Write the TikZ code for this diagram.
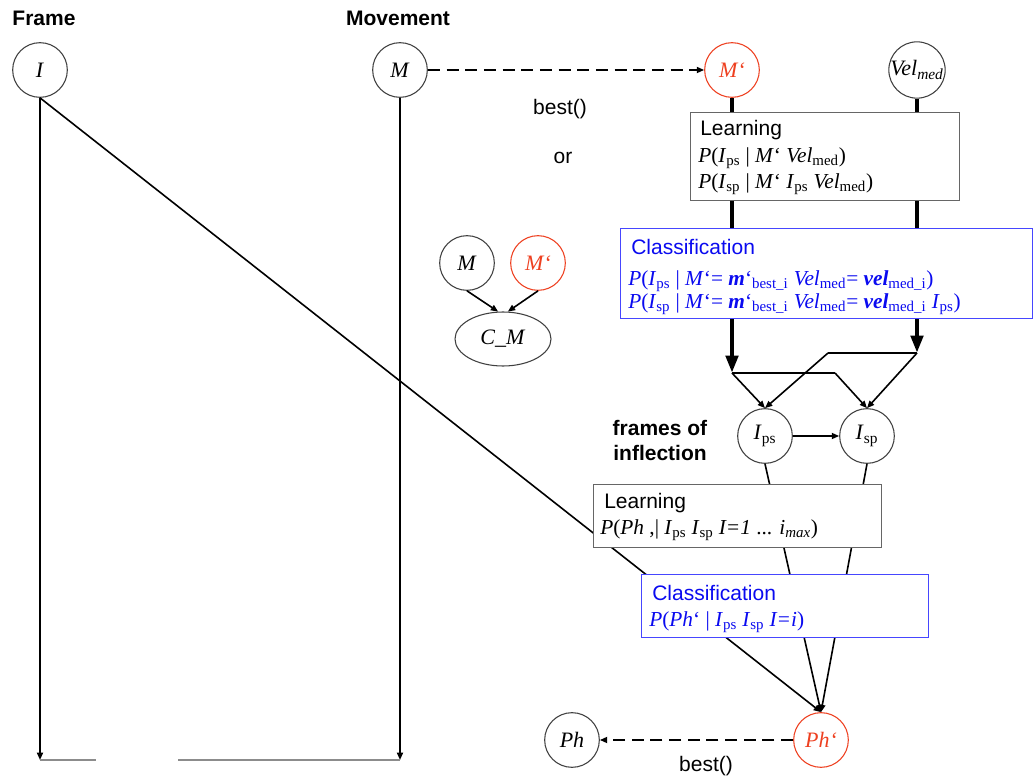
\documentclass[tikz,border=0pt]{standalone}
\usepackage{fontspec}
\setmainfont{Liberation Serif}
\setsansfont{Liberation Sans}
\usetikzlibrary{arrows.meta,shapes.geometric}

\definecolor{hot}{RGB}{238,64,32}
\definecolor{clsblue}{RGB}{10,10,240}
\definecolor{clsframe}{RGB}{70,70,255}

\newcommand\lo[1]{\textsubscript{#1}}

\begin{document}
\begin{tikzpicture}[x=0.75pt,y=-0.75pt,
  lbl/.style={font=\fontsize{15.75}{18.75}\selectfont\sffamily, inner sep=0pt},
  head/.style={font=\fontsize{15.75}{18.75}\selectfont\sffamily\bfseries, inner sep=0pt},
  var/.style={circle, draw=black!75, line width=0.8pt, minimum size=41pt, inner sep=0pt,
    fill=white, font=\fontsize{16.5}{18}\selectfont},
  hotvar/.style={var, draw=hot, text=hot},
  learnbox/.style={draw=black!60, line width=1.1pt, fill=white, inner sep=0pt, anchor=north west},
  clsbox/.style={draw=clsframe, line width=0.9pt, fill=white, inner sep=0pt, anchor=north west},
  formula/.style={font=\fontsize{16}{18}\selectfont, inner sep=0pt, anchor=west},
  link/.style={line width=1.2pt},
  arr/.style={link, -{Triangle[length=5.5pt,width=4.5pt]}},
  heavy/.style={line width=3.5pt},
  heavyarr/.style={heavy, -{Triangle[length=13pt,width=9pt]}},
  choice/.style={line width=1.3pt, dash pattern=on 9pt off 5pt, -{Triangle[length=5.5pt,width=4.5pt]}},
]
\useasboundingbox (0,0) rectangle (1033,781);

% column headers
\node[head] (hFrame) at (44,18) {Frame};
\node[head] (hMove) at (398,18) {Movement};

% variables
\node[var] (I) at (40,70) {\textit{I}};
\node[var] (M) at (400,70) {\textit{M}};
\node[hotvar] (Mp) at (732,70) {\textit{M‘}};
\node[var] (vel) at (917,70) {\textit{Vel}\lo{\textit{med}}};
\node[var] (Ips) at (765,436) {\textit{I}\lo{ps}};
\node[var] (Isp) at (867,436) {\textit{I}\lo{sp}};
\node[hotvar] (Php) at (821,740) {\textit{Ph‘}};
\node[var] (Ph) at (572,740) {\textit{Ph}};

% small model of the comparison
\node[var] (M2) at (467,263) {\textit{M}};
\node[hotvar] (Mp2) at (538,263) {\textit{M‘}};
\node[ellipse, draw=black!75, line width=0.8pt, minimum width=72pt, minimum height=40.5pt,
  inner sep=0pt, font=\fontsize{16.5}{18}\selectfont] (CM) at (503,339) {\textit{C\_M}};
\draw[arr] (M2.south) -- (CM.100);
\draw[arr] (Mp2.south) -- (CM.80);

% plain labels
\node[lbl] (best1) at (560,109) {best()};
\node[lbl] (orword) at (563,158) {or};
\node[lbl] (best2) at (706,766) {best()};
\node[head, align=center] (infl) at (660,440) {frames of\\inflection};

% long time lines
\coordinate (Iend) at (40,760);
\coordinate (Mend) at (400,760);
\draw[arr] (I.south) -- (Iend);
\draw[arr] (M.south) -- (Mend);
\draw[black!45, line width=1pt] (Iend) -- (96,760);
\draw[black!45, line width=1pt] (178,760) -- (Mend);

% lines running under the boxes
\draw[arr] (I.south) -- (Php.north);
\draw[arr] (Ips.south) -- (Php.north);
\draw[arr] (Isp.south) -- (Php.north);

% best() choices
\draw[choice] (M) -- (Mp);
\draw[choice] (Php) -- (Ph);

% first learning / classification stage
\node[learnbox, minimum width=201.75pt, minimum height=66pt] (learn1) at (690,112) {};
\node[clsbox, minimum width=309pt, minimum height=67.5pt] (class1) at (620,228) {};
\node[lbl, anchor=west] (learn1t) at (700,130) {Learning};
\node[formula] (learn1a) at (698,158)
  {\textit{P}(\textit{I}\lo{ps} | \textit{M}‘ \textit{Vel}\lo{med})};
\node[formula] (learn1b) at (698,184)
  {\textit{P}(\textit{I}\lo{sp} | \textit{M}‘ \textit{I}\lo{ps} \textit{Vel}\lo{med})};
\node[lbl, anchor=west, text=clsblue] (class1t) at (631,247) {Classification};
\node[formula, text=clsblue] (class1a) at (628,281)
  {\textit{P}(\textit{I}\lo{ps} | \textit{M}‘= \textbf{\textit{m}}‘\lo{best\_i} \textit{Vel}\lo{med}= \textbf{\textit{vel}}\lo{med\_i})};
\node[formula, text=clsblue] (class1b) at (628,304)
  {\textit{P}(\textit{I}\lo{sp} | \textit{M}‘= \textbf{\textit{m}}‘\lo{best\_i} \textit{Vel}\lo{med}= \textbf{\textit{vel}}\lo{med\_i} \textit{I}\lo{ps})};

\draw[heavy] (Mp.south) -- (Mp.south |- learn1.north);
\draw[heavy] (vel.south) -- (vel.south |- learn1.north);
\draw[heavy] (Mp.south |- learn1.south) -- (Mp.south |- class1.north);
\draw[heavy] (vel.south |- learn1.south) -- (vel.south |- class1.north);

% fan-out to the inflection frames
\coordinate (jl) at (732,373);
\coordinate (kl) at (835,373);
\coordinate (jr) at (917,353);
\coordinate (kr) at (828,353);
\draw[heavyarr] (Mp.south |- class1.south) -- (jl);
\draw[heavyarr] (vel.south |- class1.south) -- (jr);
\draw[link] (jl) -- (kl);
\draw[link] (jr) -- (kr);
\draw[arr] (jl) -- (Ips.north);
\draw[arr] (kr) -- (Ips.north);
\draw[arr] (kl) -- (Isp.north);
\draw[arr] (jr) -- (Isp.north);
\draw[arr] (Ips) -- (Isp);

% second learning / classification stage
\node[learnbox, minimum width=216pt, minimum height=47.25pt] (learn2) at (593,484) {};
\node[clsbox, minimum width=215.25pt, minimum height=47.25pt] (class2) at (641,574) {};
\node[lbl, anchor=west] (learn2t) at (604,503) {Learning};
\node[formula] (learn2a) at (600,530)
  {\textit{P}(\textit{Ph} ,| \textit{I}\lo{ps} \textit{I}\lo{sp} \textit{I=1} ... \textit{i}\lo{\textit{max}})};
\node[lbl, anchor=west, text=clsblue] (class2t) at (652,593) {Classification};
\node[formula, text=clsblue] (class2a) at (649,622)
  {\textit{P}(\textit{Ph}‘ | \textit{I}\lo{ps} \textit{I}\lo{sp} \textit{I=i})};

\end{tikzpicture}
\end{document}
